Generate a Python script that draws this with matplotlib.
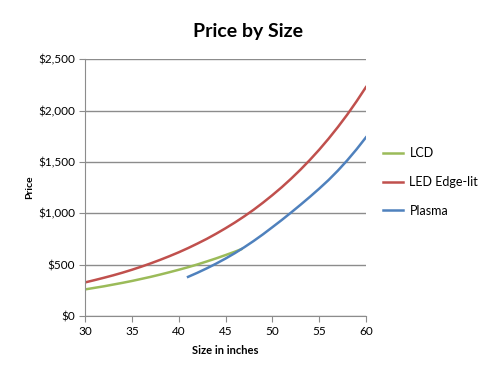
import matplotlib
matplotlib.use('Agg')
import matplotlib.pyplot as plt
from matplotlib.ticker import FuncFormatter

plt.rcParams['font.family'] = ['Lato', 'DejaVu Sans']

# values (one reading per inch)
lcd_size = [30, 31, 32, 33, 34, 35, 36, 37, 38, 39, 40, 41, 42, 43, 44, 45, 46, 46.7]
lcd_price = [260, 275, 290, 307, 324, 342, 362, 382, 404, 427, 451, 476, 503,
             532, 562, 594, 627, 652]

led_size = list(range(30, 61))
led_price = [328, 350, 373, 397, 423, 451, 481, 513, 547, 583, 621, 662, 706,
             752, 802, 855, 911, 971, 1035, 1104, 1177, 1254, 1337, 1425, 1519,
             1619, 1726, 1840, 1961, 2091, 2229]

plasma_size = list(range(41, 61))
plasma_price = [382, 422, 465, 511, 560, 613, 670, 731, 796, 865, 935, 1008,
                1083, 1160, 1240, 1324, 1416, 1516, 1624, 1740]

x_ticks = [30, 35, 40, 45, 50, 55, 60]
y_ticks = [0, 500, 1000, 1500, 2000, 2500]

fig = plt.figure(figsize=(4.86, 3.75), dpi=100)
ax = fig.add_axes([0.175, 0.157, 0.578, 0.685])

ax.plot(lcd_size, lcd_price, color='#9BBB59', lw=1.8, label='LCD')
ax.plot(led_size, led_price, color='#C0504D', lw=1.8, label='LED Edge-lit')
ax.plot(plasma_size, plasma_price, color='#4F81BD', lw=1.8, label='Plasma')

ax.set_xlim(30, 60)
ax.set_ylim(0, 2500)
ax.set_xticks(x_ticks)
ax.set_yticks(y_ticks)
ax.yaxis.set_major_formatter(FuncFormatter(lambda v, p: f'${v:,.0f}'))
ax.grid(axis='y', color='#8c8c8c', lw=1)
ax.set_axisbelow(True)
for s in ['top', 'right']:
    ax.spines[s].set_visible(False)
for s in ['left', 'bottom']:
    ax.spines[s].set_color('#8c8c8c')
ax.tick_params(direction='out', length=4, color='#8c8c8c', labelsize=8.5, pad=3)

ax.set_xlabel('Size in inches', fontsize=8, fontweight='bold', labelpad=6)
ax.set_ylabel('Price', fontsize=7.5, fontweight='bold', labelpad=3)
fig.text(0.51, 0.915, 'Price by Size', ha='center', va='center',
         fontsize=14, fontweight='bold')

fig.legend(loc='upper left', bbox_to_anchor=(0.773, 0.628), frameon=False,
           fontsize=9, handlelength=1.6, handletextpad=0.5, labelspacing=1.35,
           borderaxespad=0.2)

fig.savefig('out.png', dpi=100)
